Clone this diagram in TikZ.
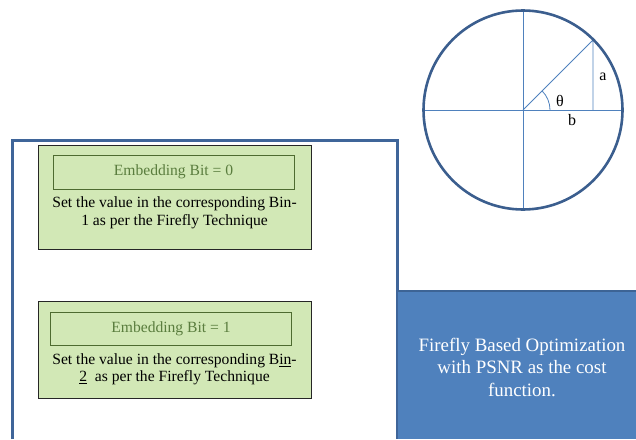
\documentclass[tikz,border=0pt]{standalone}
\usepackage{fontspec}
\setmainfont{Liberation Serif}
\usetikzlibrary{positioning}
\definecolor{frameblue}{HTML}{3F6599}
\definecolor{optblue}{HTML}{4F81BD}
\definecolor{optdark}{HTML}{3D6495}
\definecolor{circleblue}{HTML}{3B5E8E}
\definecolor{axisblue}{HTML}{4F81BD}
\definecolor{greenfill}{HTML}{D2E8B6}
\definecolor{bitborder}{HTML}{4E6B30}
\definecolor{bittext}{HTML}{5A7D3E}
\begin{document}
\begin{tikzpicture}[x=1pt,y=-1pt,
  frameline/.style={draw=frameblue,line width=3pt},
  greenbox/.style={draw=black!85,fill=greenfill,line width=0.8pt,minimum width=273pt,inner sep=0pt},
  bittitle/.style={draw=bitborder,line width=0.8pt,text=bittext,font=\fontsize{15.6}{17}\selectfont,minimum width=241pt,minimum height=34pt,inner sep=0pt},
  bintext/.style={align=center,font=\fontsize{15.6}{17.5}\selectfont,inner sep=0pt},
  axisline/.style={draw=axisblue,line width=0.8pt},
  anglelabel/.style={font=\fontsize{16}{18}\selectfont,inner sep=0pt}]
\useasboundingbox (0,0) rectangle (636,439);

% outer frame and optimisation block
\draw[frameline] (12,439) -- (12,140) -- (397,140) -- (397,439);
\fill[optblue] (398,291) rectangle (636,439);
\draw[draw=optdark,line width=2pt] (398,291) -- (636,291);
\node[text=white,align=center,font=\fontsize{18.9}{22.5}\selectfont] (opt) at (522,367)
  {Firefly Based Optimization\\with PSNR as the cost\\function.};

% bin 1
\node[greenbox,minimum height=104pt] (bina) at (174.5,197) {};
\node[bittitle] (bita) at (173.5,172) {Embedding Bit = 0};
\node[bintext] (texta) at (174.5,213) {Set the value in the corresponding Bin-\\1 as per the Firefly Technique};

% bin 2
\node[greenbox,minimum height=97pt] (binb) at (174.5,349.5) {};
\node[bittitle,minimum height=33pt] (bitb) at (171,328.5) {Embedding Bit = 1};
\node[bintext] (textb) at (174.5,369.5) {Set the value in the corresponding B\underline{in}-\\\underline{2}\ \ as per the Firefly Technique};

% circle
\coordinate (o) at (523,110);
\coordinate (l) at (424,110);
\coordinate (r) at (623,110);
\coordinate (t) at (523,11);
\coordinate (d) at (523,209);
\coordinate (p) at (593,40);
\coordinate (q) at (593,110);
\path[axisline] (l) -- (r);
\path[axisline] (t) -- (d);
\path[axisline] (o) -- (p) -- (q);
\draw[axisline] (550,110) arc[start angle=0,end angle=-45,radius=27];
\draw[draw=circleblue,line width=2.6pt] (o) circle[radius=99.5];
\node[anglelabel] (la) at (603,77) {a};
\node[anglelabel] (lt) at (560,101) {θ};
\node[anglelabel] (lb) at (572,120) {b};
\end{tikzpicture}
\end{document}
